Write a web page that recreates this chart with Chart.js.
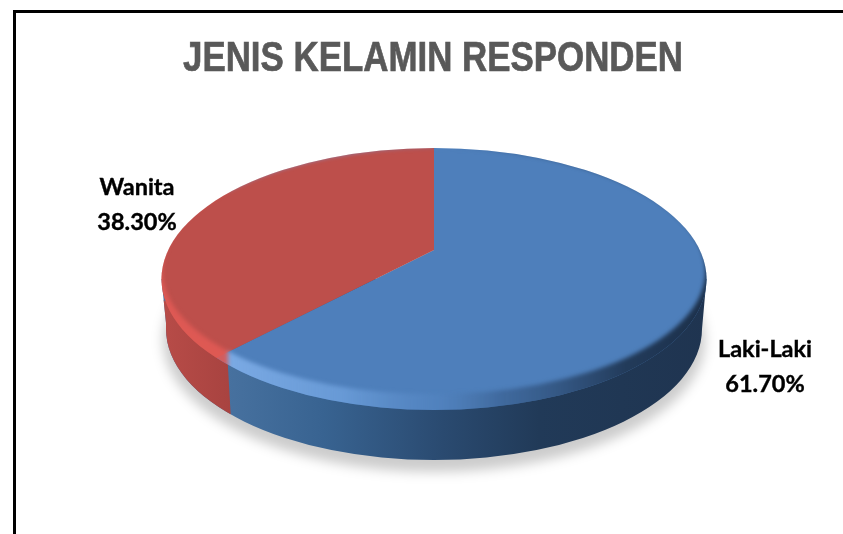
<!DOCTYPE html>
<html>
<head>
<meta charset="utf-8">
<title>Jenis Kelamin Responden</title>
<script src="https://cdn.jsdelivr.net/npm/chart.js@4"></script>
<style>
  html, body { margin: 0; padding: 0; background: #fff; overflow: hidden; }
  #wrap { position: relative; width: 843px; height: 534px; }
  #frame {
    position: absolute; left: 13px; top: 10px; right: 0; bottom: 0;
    border-left: 3px solid #000; border-top: 3px solid #000;
  }
  canvas { position: absolute; left: 0; top: 0; }
</style>
</head>
<body>
<div id="wrap">
  <div id="frame"></div>
  <canvas id="pie" width="843" height="534"></canvas>
</div>
<script>
const chartTitle = "JENIS KELAMIN RESPONDEN";
const categories = ["Laki-Laki", "Wanita"];
const percentages = [61.7, 38.3];
const sliceColors = ["#4e7fbb", "#bd4f4b"];

// disc geometry: the tilted top face, and the same face dropped for the base
const TOP = { cx: 434, cy: 279, rx: 272.5, ry: 131 };
const BASE = { cx: 434, cy: 329, rx: 268, ry: 131 };
// where the slices meet on the tilted face, and how far each wedge is stretched
const HUB = { x: 434, y: 250, sx: 1.8, sy: 0.806 };

function ellipsePath(ctx, e, grow = 0) {
  ctx.beginPath();
  ctx.ellipse(e.cx, e.cy, e.rx + grow, e.ry + grow, 0, 0, Math.PI * 2);
}

function hGradient(ctx, x0, x1, stops) {
  const g = ctx.createLinearGradient(x0, 0, x1, 0);
  stops.forEach(([at, color]) => g.addColorStop(at, color));
  return g;
}

function wallPath(ctx) {
  ctx.beginPath();
  ctx.moveTo(TOP.cx - TOP.rx, TOP.cy);
  ctx.lineTo(BASE.cx - BASE.rx, BASE.cy - 6);
  ctx.ellipse(BASE.cx, BASE.cy, BASE.rx, BASE.ry, 0, Math.PI, 0, true);
  ctx.lineTo(TOP.cx + TOP.rx, TOP.cy);
  ctx.closePath();
}

function drawWall(ctx) {
  ctx.save();
  ctx.filter = "blur(6px)";
  ctx.fillStyle = "rgba(0,0,0,0.2)";
  ctx.beginPath();
  ctx.ellipse(BASE.cx, BASE.cy + 11, BASE.rx + 3, BASE.ry + 1, 0, 0, Math.PI * 2);
  ctx.fill();
  ctx.restore();

  ctx.save();
  wallPath(ctx);
  ctx.fillStyle = hGradient(ctx, 228, 707, [
    [0, "#47719f"], [0.2, "#386391"], [0.45, "#2a4a70"],
    [0.65, "#213a58"], [1, "#1f3450"],
  ]);
  ctx.fill();
  ctx.clip();
  // red part of the wall sits left of the slice boundary
  ctx.beginPath();
  ctx.moveTo(100, 250);
  ctx.lineTo(227, 350);
  ctx.lineTo(231, 420);
  ctx.lineTo(100, 420);
  ctx.closePath();
  ctx.fillStyle = hGradient(ctx, 160, 231, [[0, "#b84c48"], [1, "#a84340"]]);
  ctx.fill();
  ctx.restore();
}

function drawBevel(ctx) {
  ctx.save();
  ellipsePath(ctx, TOP);
  ctx.clip();
  ctx.filter = "blur(2px)";
  ctx.beginPath();
  ctx.ellipse(TOP.cx, TOP.cy, TOP.rx + 6, TOP.ry + 6, 0, 0, Math.PI * 2);
  ctx.ellipse(TOP.cx, TOP.cy - 8, TOP.rx - 1, TOP.ry - 8, 0, 0, Math.PI * 2);
  ctx.fillStyle = hGradient(ctx, 162, 707, [
    [0, "rgba(225,90,85,0.9)"], [0.12, "rgba(225,90,85,0.9)"],
    [0.122, "rgba(125,172,230,0.95)"], [0.33, "rgba(115,165,225,0.7)"],
    [0.5, "rgba(90,140,200,0.3)"], [0.62, "rgba(50,85,130,0.5)"],
    [0.85, "rgba(30,52,80,0.9)"], [1, "rgba(28,48,74,1)"],
  ]);
  ctx.fill("evenodd");
  ctx.restore();
}

// Tilts the library's arcs onto the top face: wedges pinned at the hub, trimmed by the ellipse
const tiltedDisc = {
  id: "tiltedDisc",
  beforeDatasetsDraw(chart) {
    const ctx = chart.ctx;
    const arc = chart.getDatasetMeta(0).data[0];
    drawWall(ctx);
    ctx.save();
    ellipsePath(ctx, TOP);
    ctx.clip();
    ctx.translate(HUB.x, HUB.y);
    ctx.scale(HUB.sx, HUB.sy);
    ctx.translate(-arc.x, -arc.y);
  },
  afterDatasetsDraw(chart) {
    const ctx = chart.ctx;
    ctx.restore();
    drawBevel(ctx);
  },
};

// Condensed bold heading, squeezed to the width of the disc's title block
const narrowTitle = {
  id: "narrowTitle",
  afterDraw(chart) {
    const ctx = chart.ctx;
    ctx.save();
    ctx.font = "bold 42px 'Liberation Sans'";
    ctx.fillStyle = "#595959";
    ctx.strokeStyle = "#595959";
    ctx.lineWidth = 0.7;
    ctx.textAlign = "center";
    ctx.textBaseline = "alphabetic";
    ctx.translate(433, 71);
    ctx.scale(500 / ctx.measureText(chartTitle).width, 1);
    ctx.fillText(chartTitle, 0, 0);
    ctx.strokeText(chartTitle, 0, 0);
    ctx.restore();
  },
};

const sliceLabels = {
  id: "sliceLabels",
  afterDraw(chart) {
    const ctx = chart.ctx;
    const spots = [{ x: 765, y: 349 }, { x: 137, y: 187 }];
    ctx.save();
    ctx.font = "bold 23.5px Lato";
    ctx.fillStyle = "#000";
    ctx.strokeStyle = "#000";
    ctx.lineWidth = 0.4;
    ctx.textAlign = "center";
    ctx.textBaseline = "middle";
    categories.forEach((name, i) => {
      const pct = `${percentages[i].toFixed(2)}%`;
      ctx.fillText(name, spots[i].x, spots[i].y);
      ctx.strokeText(name, spots[i].x, spots[i].y);
      ctx.fillText(pct, spots[i].x, spots[i].y + 35);
      ctx.strokeText(pct, spots[i].x, spots[i].y + 35);
    });
    ctx.restore();
  },
};

new Chart(document.getElementById("pie"), {
  type: "pie",
  data: {
    labels: categories,
    datasets: [{
      data: percentages,
      backgroundColor: sliceColors,
      borderWidth: 0,
    }],
  },
  options: {
    responsive: false,
    animation: false,
    events: [],
    plugins: {
      legend: { display: false },
      tooltip: { enabled: false },
      title: { display: false },
    },
  },
  plugins: [tiltedDisc, narrowTitle, sliceLabels],
});
</script>
</body>
</html>
